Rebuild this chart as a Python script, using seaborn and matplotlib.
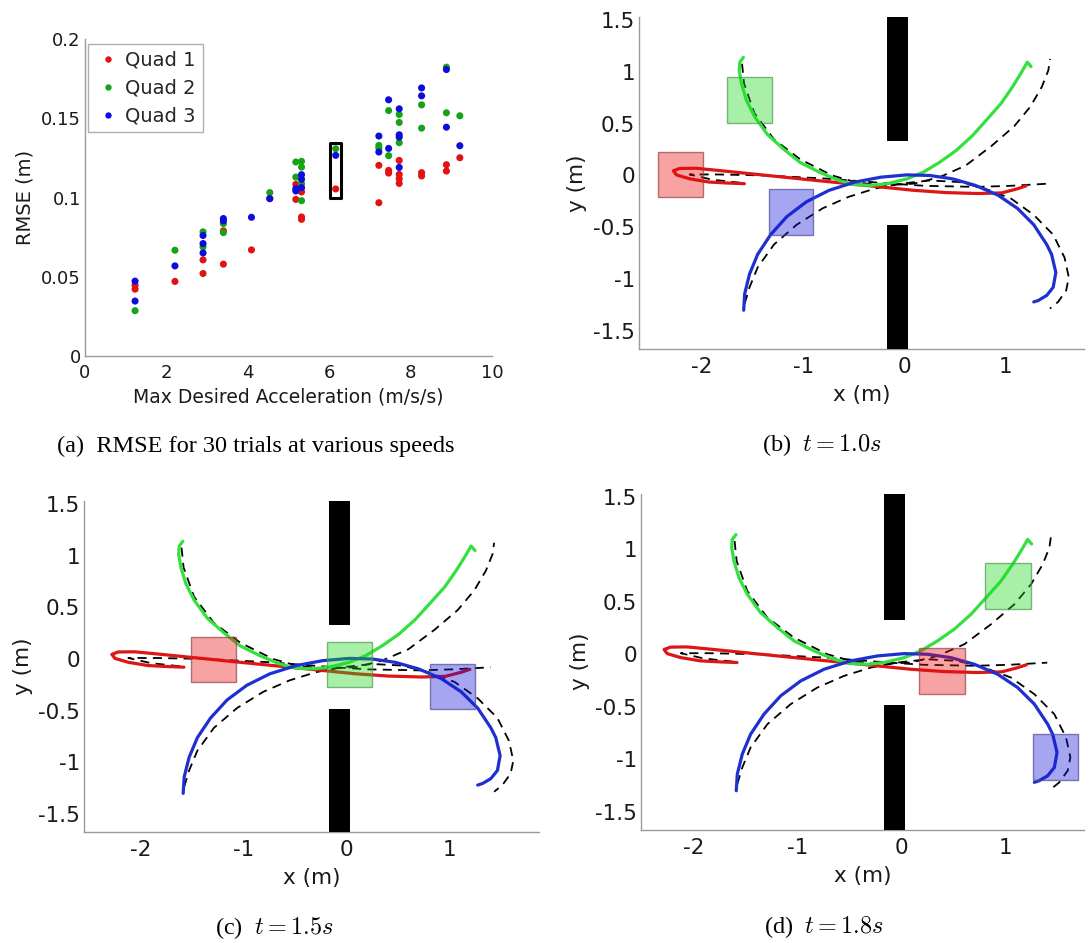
import pandas as pd
import matplotlib
matplotlib.use("Agg")
import matplotlib.pyplot as plt
from matplotlib.patches import Rectangle
from matplotlib.ticker import FormatStrFormatter
import seaborn as sns

# ---------------- (a) RMSE vs. max desired acceleration ----------------
acc_q1 = [1.23, 1.23, 2.21, 2.9, 2.9, 3.4, 3.4, 4.09, 4.54, 5.18, 5.18, 5.32, 5.32, 5.32,
          6.16, 7.22, 7.22, 7.46, 7.46, 7.72, 7.72, 7.72, 7.72, 8.27, 8.27, 8.88, 8.88, 9.21]
rmse_q1 = [0.0447, 0.0422, 0.0471, 0.0607, 0.0521, 0.079, 0.058, 0.067, 0.0994, 0.1084, 0.0989,
           0.1036, 0.0878, 0.0863, 0.1055, 0.1204, 0.0968, 0.1172, 0.1155, 0.1235, 0.1147,
           0.112, 0.109, 0.1158, 0.1137, 0.1208, 0.1168, 0.1252]
acc_q2 = [1.23, 2.21, 2.9, 2.9, 3.4, 3.4, 4.54, 5.18, 5.18, 5.32, 5.32, 5.32, 5.32, 6.16,
          7.22, 7.22, 7.46, 7.46, 7.72, 7.72, 7.72, 8.27, 8.27, 8.88, 8.88, 9.21]
rmse_q2 = [0.0286, 0.0668, 0.0784, 0.0689, 0.0836, 0.0779, 0.1032, 0.1225, 0.113, 0.1229,
           0.1193, 0.1088, 0.0981, 0.1309, 0.133, 0.1313, 0.155, 0.1265, 0.1525, 0.1475,
           0.1347, 0.1586, 0.1439, 0.1824, 0.1536, 0.1517]
acc_q3 = [1.23, 1.23, 2.21, 2.9, 2.9, 2.9, 3.4, 3.4, 4.09, 4.54, 5.18, 5.18, 5.32, 5.32, 5.32,
          6.16, 7.22, 7.22, 7.46, 7.46, 7.72, 7.72, 7.72, 7.72, 8.27, 8.27, 8.88, 8.88, 9.21]
rmse_q3 = [0.0473, 0.0347, 0.0569, 0.0761, 0.071, 0.0651, 0.0868, 0.0853, 0.0876, 0.0994,
           0.1057, 0.1042, 0.1145, 0.1116, 0.1063, 0.1267, 0.1389, 0.1288, 0.1618, 0.1311,
           0.1561, 0.1397, 0.1382, 0.1191, 0.1693, 0.1643, 0.1809, 0.1445, 0.1328]
quad_names = ["Quad 1", "Quad 2", "Quad 3"]
highlight_acc = (6.03, 6.30)     # boxed trial
highlight_rmse = (0.0998, 0.1347)

# ---------------- (b)-(d) trajectories through the window ----------------
q1_x = [1.2, 1.12, 0.96, 0.73, 0.41, 0.09, -0.23, -0.55, -0.87, -1.19, -1.51, -1.83, -2.06,
        -2.22, -2.28, -2.25, -2.12, -1.93, -1.74, -1.58]
q1_y = [-0.1, -0.127, -0.168, -0.174, -0.165, -0.143, -0.111, -0.079, -0.048, -0.016, 0.016,
        0.048, 0.07, 0.068, 0.045, 0.006, -0.032, -0.063, -0.073, -0.079]
q1_ref_x = [-1.62, -1.9, -2.12, -1.85, -1.36, -0.77, -0.11, 0.21, 0.71, 1.04, 1.4]
q1_ref_y = [-0.07, -0.04, 0.01, 0.01, 0.0, -0.03, -0.08, -0.1, -0.11, -0.1, -0.08]
q2_x = [-1.59, -1.625, -1.631, -1.609, -1.561, -1.481, -1.353, -1.192, -1.032, -0.84, -0.647,
        -0.487, -0.327, -0.167, 0.026, 0.186, 0.346, 0.506, 0.667, 0.827, 0.955, 1.067, 1.147,
        1.212, 1.25]
q2_y = [1.14, 1.093, 1.014, 0.887, 0.729, 0.571, 0.396, 0.254, 0.127, 0.032, -0.048, -0.089,
        -0.095, -0.079, -0.032, 0.032, 0.127, 0.238, 0.38, 0.555, 0.697, 0.856, 0.983, 1.093,
        1.05]
q2_ref_x = [-1.603, -1.583, -1.481, -1.288, -1.032, -0.712, -0.487, -0.231, 0.09, 0.346,
            0.603, 0.859, 1.083, 1.244, 1.356, 1.42, 1.436]
q2_ref_y = [1.078, 0.887, 0.602, 0.349, 0.158, 0.0, -0.063, -0.095, -0.079, -0.016, 0.095,
            0.285, 0.475, 0.666, 0.856, 1.014, 1.125]
q3_x = [-1.587, -1.577, -1.529, -1.449, -1.321, -1.16, -0.968, -0.744, -0.487, -0.231, 0.026,
        0.25, 0.474, 0.699, 0.923, 1.115, 1.276, 1.404, 1.452, 1.494, 1.468, 1.404, 1.324, 1.276]
q3_y = [-1.3, -1.141, -0.951, -0.761, -0.571, -0.396, -0.254, -0.143, -0.063, -0.016, 0.006,
        0.0, -0.032, -0.095, -0.19, -0.317, -0.475, -0.666, -0.761, -0.935, -1.078, -1.157,
        -1.204, -1.22]
q3_ref_x = [-1.577, -1.529, -1.449, -1.288, -1.064, -0.808, -0.551, -0.295, -0.038, 0.25,
            0.538, 0.795, 1.051, 1.276, 1.468, 1.58, 1.622, 1.596, 1.516, 1.436]
q3_ref_y = [-1.236, -1.078, -0.887, -0.666, -0.475, -0.317, -0.206, -0.127, -0.079, -0.048,
            -0.063, -0.127, -0.222, -0.38, -0.571, -0.792, -0.983, -1.109, -1.22, -1.284]

snap_times = ["1.0", "1.5", "1.8"]
q1_pos = [(-2.21, 0.01), (-1.29, -0.005), (0.39, -0.16)]
q2_pos = [(-1.53, 0.73), (0.03, -0.053), (1.02, 0.65)]
q3_pos = [(-1.12, -0.35), (1.03, -0.265), (1.48, -0.98)]
quad_size = 0.44
wall_x = (-0.17, 0.03)
wall_gap = (-0.48, 0.33)

# ---------------- style ----------------
sns.set_style("white")
plt.rcParams['font.family'] = ['DejaVu Sans']
plt.rcParams['mathtext.fontset'] = 'cm'
plt.rcParams['axes.unicode_minus'] = False

W, H = 1091, 943
fig = plt.figure(figsize=(W / 100, H / 100), dpi=100)


def px_axes(left, top, right, bottom):
    return fig.add_axes([left / W, 1 - bottom / H, (right - left) / W, (bottom - top) / H])


def matlab_look(ax, size):
    for s in ['top', 'right']:
        ax.spines[s].set_visible(False)
    for s in ['left', 'bottom']:
        ax.spines[s].set_color('#9a9a9a')
        ax.spines[s].set_linewidth(1.0)
    ax.tick_params(direction='in', length=4, width=0.8, color='#9a9a9a',
                   labelsize=size, labelcolor='#1a1a1a')
    ax.tick_params(axis='x', pad=6)
    ax.tick_params(axis='y', pad=3)


qcol = ['#e31212', '#16a316', '#0c0cdc']

# ---- (a)
ax = px_axes(85, 39.3, 492, 356)
df = pd.concat([
    pd.DataFrame({'acc': acc_q1, 'rmse': rmse_q1, 'quad': quad_names[0]}),
    pd.DataFrame({'acc': acc_q2, 'rmse': rmse_q2, 'quad': quad_names[1]}),
    pd.DataFrame({'acc': acc_q3, 'rmse': rmse_q3, 'quad': quad_names[2]}),
])
sns.scatterplot(data=df, x='acc', y='rmse', hue='quad', palette=qcol, s=26,
                edgecolor='none', ax=ax)
ax.add_patch(Rectangle((highlight_acc[0], highlight_rmse[0]),
                       highlight_acc[1] - highlight_acc[0], highlight_rmse[1] - highlight_rmse[0],
                       fill=False, edgecolor='black', lw=2.2, joinstyle='round', zorder=5))
ax.set_xlim(0, 10)
ax.set_ylim(0, 0.2)
ax.set_xticks([0, 2, 4, 6, 8, 10])
ax.set_yticks([0, 0.05, 0.1, 0.15, 0.2])
ax.yaxis.set_major_formatter(FormatStrFormatter('%g'))
matlab_look(ax, 13)
ax.set_xlabel('Max Desired Acceleration (m/s/s)', fontsize=13.5, color='#1a1a1a', labelpad=4)
ax.set_ylabel('RMSE (m)', fontsize=14, color='#1a1a1a', labelpad=5)
handles, labels = ax.get_legend_handles_labels()
leg = ax.legend(handles, labels, loc='upper left', bbox_to_anchor=(0.008, 0.985),
                borderaxespad=0, fontsize=14, frameon=True, fancybox=False,
                handletextpad=0.25, labelspacing=0.45, borderpad=0.35, handlelength=1.3,
                markerscale=0.9)
leg.get_frame().set_edgecolor('#9a9a9a')
leg.get_frame().set_linewidth(1.0)

# ---- (b)-(d)
panel_px = [(639, 16.9, 1083.8, 348.6), (84.1, 500.9, 538.8, 831.6), (641.2, 493.6, 1083.7, 829.6)]
panel_xlim = [(-2.62, 1.77), (-2.55, 1.87), (-2.5, 1.75)]
ylim = (-1.67, 1.53)
line_col = ['#dc1515', '#33e040', '#1f30d0']
face_col = [(0.92, 0.05, 0.05, 0.38), (0.1, 0.85, 0.1, 0.38), (0.08, 0.08, 0.85, 0.38)]
edge_col = [(0.6, 0.25, 0.25, 0.7), (0.3, 0.6, 0.3, 0.7), (0.3, 0.3, 0.6, 0.7)]

for i, t in enumerate(snap_times):
    ax = px_axes(*panel_px[i])
    ref = [(q1_ref_x, q1_ref_y), (q2_ref_x, q2_ref_y), (q3_ref_x, q3_ref_y)]
    act = [(q1_x, q1_y), (q2_x, q2_y), (q3_x, q3_y)]
    for rx, ry in ref:
        sns.lineplot(x=rx, y=ry, sort=False, estimator=None, color='black',
                     linestyle=(0, (5, 3.5)), lw=1.3, ax=ax)
    for k, (xx, yy) in enumerate(act):
        sns.lineplot(x=xx, y=yy, sort=False, estimator=None, color=line_col[k],
                     lw=2.3, solid_capstyle='round', solid_joinstyle='round', ax=ax)
    # obstacle wall with a window
    ax.add_patch(Rectangle((wall_x[0], wall_gap[1]), wall_x[1] - wall_x[0], ylim[1] - wall_gap[1],
                           facecolor='black', edgecolor='none', zorder=4))
    ax.add_patch(Rectangle((wall_x[0], ylim[0]), wall_x[1] - wall_x[0], wall_gap[0] - ylim[0],
                           facecolor='black', edgecolor='none', zorder=4))
    for k, pos in enumerate([q1_pos[i], q2_pos[i], q3_pos[i]]):
        ax.add_patch(Rectangle((pos[0] - quad_size / 2, pos[1] - quad_size / 2), quad_size,
                               quad_size, facecolor=face_col[k], edgecolor=edge_col[k],
                               lw=1.0, zorder=5))
    ax.set_xlim(*panel_xlim[i])
    ax.set_ylim(*ylim)
    ax.set_xticks([-2, -1, 0, 1])
    ax.set_yticks([-1.5, -1, -0.5, 0, 0.5, 1, 1.5])
    ax.yaxis.set_major_formatter(FormatStrFormatter('%g'))
    matlab_look(ax, 15.5)
    ax.set_xlabel('x (m)', fontsize=15.5, color='#1a1a1a', labelpad=6)
    ax.set_ylabel('y (m)', fontsize=15.5, color='#1a1a1a', labelpad=4)

# ---- sub-figure captions
cap = dict(fontsize=17.5, family=['Liberation Serif', 'DejaVu Serif'], ha='center',
           va='center', color='black')
fig.text(256 / W, 1 - 446 / H, '(a)  RMSE for 30 trials at various speeds', **cap)
fig.text(822 / W, 1 - 445 / H, r'(b)  $t = %ss$' % snap_times[0], **cap)
fig.text(274 / W, 1 - 928 / H, r'(c)  $t = %ss$' % snap_times[1], **cap)
fig.text(824 / W, 1 - 927 / H, r'(d)  $t = %ss$' % snap_times[2], **cap)

fig.savefig('out.png', dpi=100, facecolor='white')
